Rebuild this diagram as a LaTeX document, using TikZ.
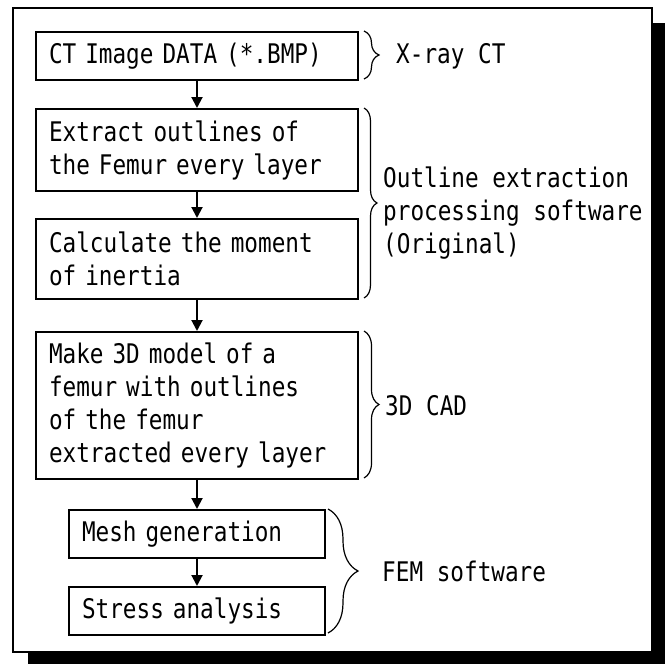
\documentclass[tikz,border=0pt]{standalone}
\usepackage{fontspec}
\setmonofont[FakeStretch=0.84]{DejaVu Sans Mono}
\usetikzlibrary{arrows.meta,decorations.pathreplacing}
\begin{document}
\begin{tikzpicture}[x=1pt,y=-1pt,
  every node/.style={font=\ttfamily\fontsize{27}{33}\selectfont},
  stepbox/.style={draw,line width=2pt,fill=white,anchor=north west,align=left,
    inner xsep=13pt,inner ysep=0pt},
  label/.style={anchor=west,align=left,inner sep=0pt},
  flow/.style={line width=2pt,-{Triangle[width=11pt,length=11pt]}},
  curly/.style={line width=1.2pt,decorate,decoration={brace,amplitude=#1}}]
\useasboundingbox (0,0) rectangle (665,664);
% frame with drop shadow
\fill[black] (28,23) rectangle (665,664);
\draw[line width=2pt,fill=white] (13,8) rectangle (652,652);
% process steps
\node[stepbox,text width=296pt,minimum height=48pt] (ct) at (35,31) {CT Image DATA (*.BMP)};
\node[stepbox,text width=296pt,minimum height=82pt] (ext) at (35,108) {Extract outlines of\\the Femur every layer};
\node[stepbox,text width=296pt,minimum height=80pt] (mom) at (35,218) {Calculate the moment\\of inertia};
\node[stepbox,text width=296pt,minimum height=147pt] (cad) at (35,331) {Make 3D model of a\\femur with outlines\\of the femur\\extracted every layer};
\node[stepbox,text width=230pt,minimum height=48pt] (mesh) at (68,509) {Mesh generation};
\node[stepbox,text width=230pt,minimum height=48pt] (stress) at (68,586) {Stress analysis};
% arrows
\draw[flow] (ct.south -| 197,0) -- (ext.north -| 197,0);
\draw[flow] (ext.south -| 197,0) -- (mom.north -| 197,0);
\draw[flow] (mom.south -| 197,0) -- (cad.north -| 197,0);
\draw[flow] (cad.south -| 197,0) -- (mesh.north -| 197,0);
\draw[flow] (mesh.south -| 197,0) -- (stress.north -| 197,0);
% braces
\coordinate (b1t) at (364,31);  \coordinate (b1b) at (364,79);
\coordinate (b2t) at (364,108); \coordinate (b2b) at (364,298);
\coordinate (b3t) at (364,331); \coordinate (b3b) at (364,478);
\coordinate (b4t) at (328,509); \coordinate (b4b) at (328,633);
\draw[curly=15pt] (b1t) -- (b1b);
\draw[curly=13pt] (b2t) -- (b2b);
\draw[curly=15pt] (b3t) -- (b3b);
\draw[curly=30pt] (b4t) -- (b4b);
% tool labels
\node[label] (xray) at (396,56) {X-ray CT};
\node[label] (oes) at (383,213) {Outline extraction\\processing software\\(Original)};
\node[label] (cadl) at (385,406) {3D CAD};
\node[label] (fem) at (382,571) {FEM software};
\end{tikzpicture}
\end{document}
